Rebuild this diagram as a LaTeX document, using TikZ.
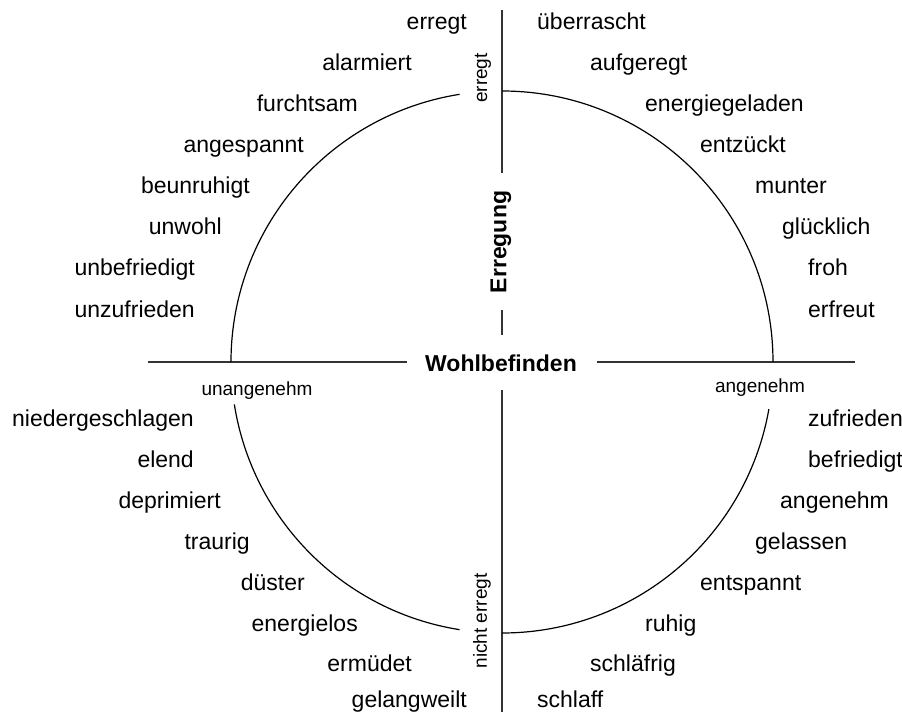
\documentclass[tikz,border=0pt]{standalone}
\usepackage{fontspec}
\setmainfont{Liberation Sans}
\usepackage{tikz}
\usetikzlibrary{positioning}

\begin{document}
\begin{tikzpicture}[x=1pt,y=1pt,
            word/.style={inner sep=0pt,font=\fontsize{23}{27}\selectfont},
            lword/.style={word,anchor=base east},
            rword/.style={word,anchor=base west},
            small/.style={inner sep=0pt,font=\fontsize{19}{22}\selectfont},
            title/.style={inner sep=0pt,font=\fontsize{23}{27}\selectfont\bfseries},
            axis/.style={draw=black!80,line width=1.6pt},
            circ/.style={draw=black,line width=1.2pt}]
            \useasboundingbox (-502,-350) rectangle (400,362);

            % axes
            \coordinate (vtop)  at (0,352);
            \coordinate (vtopb) at (0,189);
            \coordinate (vmida) at (0,52);
            \coordinate (vmidb) at (0,27);
            \coordinate (vbota) at (0,-28);
            \coordinate (vbot)  at (0,-350);
            \coordinate (hleft)  at (-354,0);
            \coordinate (hlefta) at (-95,0);
            \coordinate (hrighta) at (95,0);
            \coordinate (hright) at (353,0);
            \draw[axis] (vtop) -- (vtopb);
            \draw[axis] (vmida) -- (vmidb);
            \draw[axis] (vbota) -- (vbot);
            \draw[axis] (hleft) -- (hlefta);
            \draw[axis] (hrighta) -- (hright);

            % circle
            \draw[circ] (0:271) arc[start angle=0,end angle=90,radius=271pt];
            \draw[circ] (99:271) arc[start angle=99,end angle=180,radius=271pt];
            \draw[circ] (189:271) arc[start angle=189,end angle=261,radius=271pt];
            \draw[circ] (270:271) arc[start angle=270,end angle=350,radius=271pt];

            % axis labels
            \node[title] (wohl) at (-1,-9) [anchor=base] {Wohlbefinden};
            \node[title,rotate=90] (erreg) at (-1,120) {Erregung};
            \node[small,rotate=90] (hoch) at (-19,284) {erregt};
            \node[small,rotate=90] (nied) at (-20,-259) {nicht erregt};
            \node[small,anchor=base] (unang) at (-245,-33) {unangenehm};
            \node[small,anchor=base] (ang) at (258,-30) {angenehm};

            % upper left
            \node[lword] (w1) at (-35,332) {erregt};
            \node[lword] (w2) at (-90,291) {alarmiert};
            \node[lword] (w3) at (-144,250) {furchtsam};
            \node[lword] (w4) at (-198,209) {angespannt};
            \node[lword] (w5) at (-252,168) {beunruhigt};
            \node[lword] (w6) at (-280,127) {unwohl};
            \node[lword] (w7) at (-307,86) {unbefriedigt};
            \node[lword] (w8) at (-307,45) {unzufrieden};

            % upper right
            \node[rword] (e1) at (35,332) {überrascht};
            \node[rword] (e2) at (88,291) {aufgeregt};
            \node[rword] (e3) at (143,250) {energiegeladen};
            \node[rword] (e4) at (198,209) {entzückt};
            \node[rword] (e5) at (253,168) {munter};
            \node[rword] (e6) at (280,127) {glücklich};
            \node[rword] (e7) at (306,86) {froh};
            \node[rword] (e8) at (306,45) {erfreut};

            % lower left
            \node[lword] (s1) at (-308,-64) {niedergeschlagen};
            \node[lword] (s2) at (-308,-105) {elend};
            \node[lword] (s3) at (-281,-146) {deprimiert};
            \node[lword] (s4) at (-252,-187) {traurig};
            \node[lword] (s5) at (-197,-228) {düster};
            \node[lword] (s6) at (-144,-269) {energielos};
            \node[lword] (s7) at (-90,-309) {ermüdet};
            \node[lword] (s8) at (-35,-345) {gelangweilt};

            % lower right
            \node[rword] (o1) at (306,-64) {zufrieden};
            \node[rword] (o2) at (306,-105) {befriedigt};
            \node[rword] (o3) at (278,-146) {angenehm};
            \node[rword] (o4) at (253,-187) {gelassen};
            \node[rword] (o5) at (198,-228) {entspannt};
            \node[rword] (o6) at (143,-269) {ruhig};
            \node[rword] (o7) at (88,-309) {schläfrig};
            \node[rword] (o8) at (35,-345) {schlaff};
        \end{tikzpicture}
\end{document}
